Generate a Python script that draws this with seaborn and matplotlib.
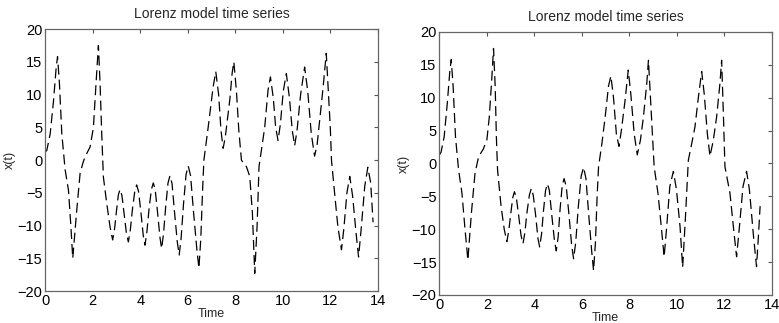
import matplotlib
matplotlib.use("Agg")
import matplotlib.pyplot as plt
import seaborn as sns
import pandas as pd

# x(t) of the Lorenz system, two runs, sampled at the turning points and flanks
t_run1 = [0.0, 0.07, 0.21, 0.35, 0.46, 0.52, 0.6, 0.7, 0.84, 0.98, 1.08, 1.16,
          1.33, 1.47, 1.6, 1.68, 1.89, 2.03, 2.14, 2.24, 2.31, 2.38, 2.45, 2.59,
          2.73, 2.84, 2.92, 3.0, 3.08, 3.15, 3.23, 3.32, 3.42, 3.5, 3.58, 3.67,
          3.77, 3.85, 3.93, 4.03, 4.13, 4.2, 4.28, 4.37, 4.47, 4.55, 4.63, 4.73,
          4.83, 4.9, 4.98, 5.07, 5.17, 5.25, 5.34, 5.44, 5.56, 5.64, 5.72, 5.82,
          5.93, 6.02, 6.12, 6.24, 6.38, 6.47, 6.55, 6.62, 6.68, 6.86, 7.07, 7.18,
          7.3, 7.4, 7.49, 7.58, 7.77, 7.87, 7.94, 8.05, 8.15, 8.26, 8.4, 8.47,
          8.61, 8.72, 8.82, 8.92, 9.0, 9.12, 9.24, 9.38, 9.48, 9.6, 9.7, 9.8,
          9.9, 10.02, 10.15, 10.28, 10.4, 10.5, 10.6, 10.75, 10.92, 11.05, 11.2,
          11.34, 11.45, 11.55, 11.7, 11.83, 11.9, 12.0, 12.05, 12.18, 12.32,
          12.47, 12.57, 12.7, 12.82, 12.94, 13.08, 13.19, 13.3, 13.45, 13.58,
          13.7, 13.8]
x_run1 = [1.2, 1.5, 4.0, 9.0, 14.0, 15.8, 11.7, 4.0, -1.5, -4.6, -10.0, -15.0,
          -7.6, -2.0, -0.3, 0.5, 2.0, 5.0, 11.7, 17.5, 11.7, 4.0, -2.6, -6.6,
          -10.2, -12.2, -10.5, -7.8, -5.3, -4.5, -5.4, -8.2, -11.2, -12.5, -10.8,
          -7.6, -4.8, -3.8, -4.8, -8.0, -11.6, -13.0, -11.0, -7.5, -4.5, -3.5,
          -4.5, -8.0, -11.8, -13.5, -11.3, -7.2, -3.5, -2.4, -3.6, -7.8, -12.5,
          -14.5, -12.0, -6.8, -2.2, -0.9, -2.4, -7.8, -13.5, -16.5, -12.0, -5.0,
          0.0, 5.0, 11.2, 13.5, 10.0, 4.5, 1.8, 3.5, 9.2, 13.3, 15.0, 10.5, 4.5,
          0.0, -0.8, -1.0, -2.5, -8.0, -17.3, -10.0, -1.0, 2.0, 5.0, 10.7, 12.7,
          9.5, 5.0, 3.0, 5.5, 10.5, 13.2, 9.5, 4.5, 2.2, 4.5, 10.0, 14.2, 10.5,
          4.0, 0.6, 2.5, 6.0, 11.2, 16.3, 11.7, 5.0, 0.0, -5.0, -10.2, -13.7,
          -10.5, -5.0, -2.5, -5.5, -11.0, -14.8, -10.5, -4.0, -1.1, -3.5, -9.5]

t_run2 = [0.0, 0.07, 0.2, 0.33, 0.44, 0.5, 0.58, 0.68, 0.81, 0.95, 1.08, 1.2,
          1.35, 1.5, 1.65, 1.85, 2.0, 2.1, 2.2, 2.28, 2.35, 2.4, 2.45, 2.6, 2.73,
          2.84, 2.92, 3.0, 3.09, 3.16, 3.24, 3.34, 3.44, 3.52, 3.6, 3.69, 3.79,
          3.87, 3.95, 4.05, 4.15, 4.22, 4.3, 4.38, 4.47, 4.55, 4.63, 4.73, 4.84,
          4.92, 5.0, 5.08, 5.17, 5.25, 5.34, 5.45, 5.57, 5.65, 5.74, 5.85, 5.97,
          6.07, 6.17, 6.28, 6.41, 6.49, 6.57, 6.64, 6.7, 6.84, 6.98, 7.12, 7.22,
          7.33, 7.45, 7.56, 7.66, 7.82, 7.95, 8.06, 8.2, 8.33, 8.46, 8.59, 8.73,
          8.8, 8.9, 9.04, 9.2, 9.35, 9.46, 9.56, 9.7, 9.85, 9.98, 10.13, 10.24,
          10.36, 10.48, 10.62, 10.76, 10.9, 11.04, 11.15, 11.28, 11.39, 11.53,
          11.67, 11.81, 11.88, 11.95, 12.02, 12.23, 12.4, 12.51, 12.62, 12.78,
          12.93, 13.05, 13.22, 13.35, 13.43, 13.5]
x_run2 = [1.3, 1.7, 4.0, 9.0, 14.0, 15.8, 11.7, 4.0, -1.0, -4.5, -10.0, -14.7,
          -7.5, -1.5, 1.0, 2.2, 3.6, 7.0, 12.5, 17.5, 11.7, 4.0, -1.0, -6.6,
          -10.0, -11.9, -10.3, -7.8, -5.2, -4.3, -5.2, -8.0, -11.0, -12.2, -10.5,
          -7.4, -4.8, -3.8, -4.8, -7.8, -11.4, -12.7, -10.8, -7.3, -4.1, -3.1,
          -4.1, -7.8, -11.6, -13.3, -11.2, -7.0, -3.4, -2.3, -3.5, -7.6, -12.5,
          -14.5, -12.0, -6.5, -1.9, -0.6, -2.3, -7.5, -13.3, -16.3, -12.0, -5.0,
          -0.5, 3.0, 7.1, 11.8, 13.3, 10.0, 4.5, 2.6, 5.0, 9.7, 14.2, 10.5, 4.5,
          1.3, 3.5, 7.1, 12.2, 15.7, 9.0, -0.5, -4.5, -10.0, -14.2, -10.0, -3.5,
          -1.2, -4.0, -9.6, -15.8, -8.0, 0.5, 3.0, 5.6, 10.0, 14.0, 10.5, 4.5,
          1.1, 3.5, 7.1, 12.2, 15.7, 8.0, -0.5, -4.5, -10.5, -14.2, -10.0, -3.5,
          -1.2, -4.0, -11.0, -15.7, -11.0, -6.5]

x_ticks = [0, 2, 4, 6, 8, 10, 12, 14]
y_ticks = [-20, -15, -10, -5, 0, 5, 10, 15, 20]
title_text = "Lorenz model time series"

sns.set_style("white")
plt.rcParams["font.family"] = ["Liberation Sans", "DejaVu Sans"]

fig = plt.figure(figsize=(7.79, 3.23), dpi=100)
axes = [fig.add_axes([0.058, 0.099, 0.427, 0.811]),
        fig.add_axes([0.564, 0.087, 0.427, 0.814])]

for ax, (tt, xx) in zip(axes, [(t_run1, x_run1), (t_run2, x_run2)]):
    df = pd.DataFrame({"Time": tt, "x(t)": xx})
    sns.lineplot(data=df, x="Time", y="x(t)", ax=ax, sort=False,
                 color="black", linewidth=0.9, linestyle=(0, (8, 4)))
    ax.set_xlim(0, 14)
    ax.set_ylim(-20, 20)
    ax.set_xticks(x_ticks)
    ax.set_yticks(y_ticks)
    ax.tick_params(direction="in", length=3, width=0.8, top=True, right=True,
                   labelsize=10.5, pad=2, colors="#555555", labelcolor="black")
    for sp in ax.spines.values():
        sp.set_visible(True)
        sp.set_color("#666666")
        sp.set_linewidth(0.9)
    ax.set_title(title_text, fontsize=10, pad=8)
    ax.set_xlabel("Time", fontsize=9, labelpad=0)
    ax.set_ylabel("x(t)", fontsize=9, labelpad=1)

fig.savefig("out.png", dpi=100)
